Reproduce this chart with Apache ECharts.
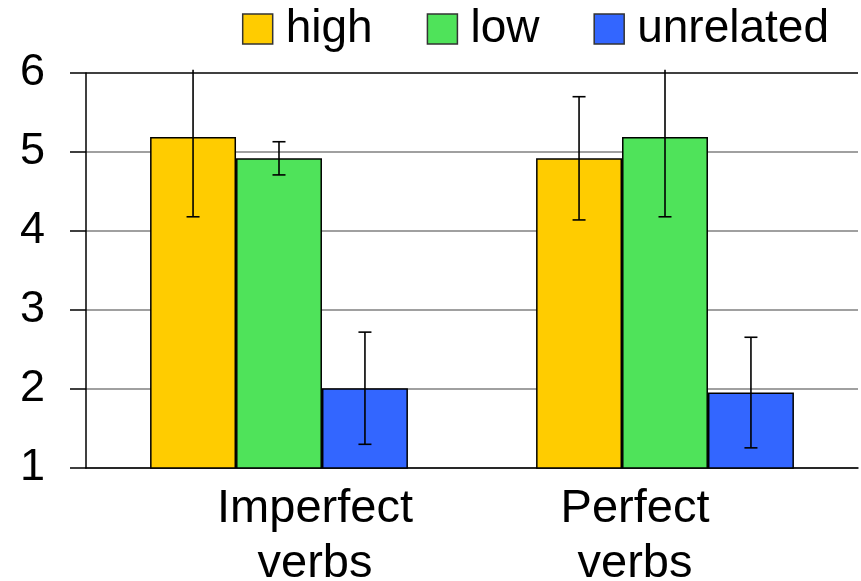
<!DOCTYPE html>
<html>
<head>
<meta charset="utf-8">
<script src="https://cdn.jsdelivr.net/npm/echarts@6/dist/echarts.min.js"></script>
<style>
html,body{margin:0;padding:0;background:#fff;}
#chart{width:861px;height:581px;}
</style>
</head>
<body>
<div id="chart"></div>
<script>
// ---- data ----
var categories = ['Imperfect\nverbs', 'Perfect\nverbs'];
var seriesNames = ['high', 'low', 'unrelated'];
var highValues = [5.19, 4.92];
var lowValues = [4.92, 5.19];
var unrelatedValues = [2.01, 1.955];
var highErr = [1.01, 0.78];
var lowErr = [0.21, 1.01];
var unrelatedErr = [0.71, 0.70];
var yTicks = [1, 2, 3, 4, 5, 6];

var colors = ['#FFCC00', '#4FE35A', '#3366FF'];
var FONT = "'Liberation Sans', Arial, Helvetica, sans-serif";
var yMin = yTicks[0], yMax = yTicks[yTicks.length - 1];
var CAT_GAP = 0.332;

var values = [highValues, lowValues, unrelatedValues];
var errs = [highErr, lowErr, unrelatedErr];

function errSeries(k) {
  var data = values[k].map(function (v, i) { return [i, v, errs[k][i]]; });
  return {
    type: 'custom',
    name: seriesNames[k] + '_err',
    z: 10,
    silent: true,
    data: data,
    encode: { x: 0, y: 1 },
    renderItem: function (params, api) {
      var ci = api.value(0), v = api.value(1), e = api.value(2);
      var catW = api.size([1, 0])[0];
      var barW = catW * (1 - CAT_GAP) / 3;
      var c = api.coord([ci, v]);
      var x = c[0] + (k - 1) * barW;
      var limit = yMax + 0.04;
      var upV = v + e, clipped = false;
      if (upV > limit) { upV = limit; clipped = true; }
      var yUp = api.coord([ci, upV])[1];
      var yLo = api.coord([ci, v - e])[1];
      var cap = 6.5;
      var style = { stroke: '#000', lineWidth: 1.6 };
      var children = [
        { type: 'line', shape: { x1: x, y1: yUp, x2: x, y2: yLo }, style: style },
        { type: 'line', shape: { x1: x - cap, y1: yLo, x2: x + cap, y2: yLo }, style: style }
      ];
      if (!clipped) {
        children.push({ type: 'line', shape: { x1: x - cap, y1: yUp, x2: x + cap, y2: yUp }, style: style });
      }
      return { type: 'group', children: children };
    }
  };
}

var barSeries = seriesNames.map(function (n, k) {
  return {
    type: 'bar',
    name: n,
    data: values[k],
    barGap: '0%',
    barCategoryGap: (CAT_GAP * 100) + '%',
    itemStyle: { color: colors[k], borderColor: '#000', borderWidth: 1.5 }
  };
});

var option = {
  animation: false,
  backgroundColor: '#fff',
  color: colors,
  grid: { left: 86, right: 3, top: 73, bottom: 113, containLabel: false, outerBoundsMode: 'none' },
  legend: {
    data: seriesNames,
    top: 1,
    right: 27,
    icon: 'rect',
    itemWidth: 30,
    itemHeight: 30,
    itemGap: 54,
    itemStyle: { borderColor: '#333', borderWidth: 1.5 },
    textStyle: { fontFamily: FONT, fontSize: 46, color: '#000', padding: [0, 0, 0, 8] }
  },
  xAxis: {
    type: 'category',
    data: categories,
    axisTick: { show: false },
    axisLine: { lineStyle: { color: '#000', width: 1.5 } },
    axisLabel: {
      margin: 14,
      interval: 0,
      formatter: function (val, idx) {
        var parts = val.split('\n');
        var key = idx === 0 ? 'a' : 'b';
        return parts.map(function (p) { return '{' + key + '|' + p + '}'; }).join('\n');
      },
      rich: {
        a: { fontFamily: FONT, fontSize: 47, color: '#000', lineHeight: 55, padding: [0, 0, 0, 72] },
        b: { fontFamily: FONT, fontSize: 47, color: '#000', lineHeight: 55, padding: [0, 60, 0, 0] }
      }
    }
  },
  yAxis: {
    type: 'value',
    min: yMin,
    max: yMax,
    interval: 1,
    axisLine: { show: true, lineStyle: { color: '#000', width: 1.5 } },
    axisTick: { show: true, length: 16, lineStyle: { color: '#000', width: 1.5 } },
    axisLabel: { fontFamily: FONT, fontSize: 45, color: '#000', margin: 41,
      formatter: function (v) { return yTicks.indexOf(v) >= 0 ? String(v) : ''; } },
    splitLine: { show: true, lineStyle: { color: ['#808080', '#808080', '#808080', '#808080', '#808080', '#000'], width: 1.5 } }
  },
  series: barSeries.concat([errSeries(0), errSeries(1), errSeries(2)])
};

var chart = echarts.init(document.getElementById('chart'), null, { renderer: 'canvas' });
chart.setOption(option);
</script>
</body>
</html>
